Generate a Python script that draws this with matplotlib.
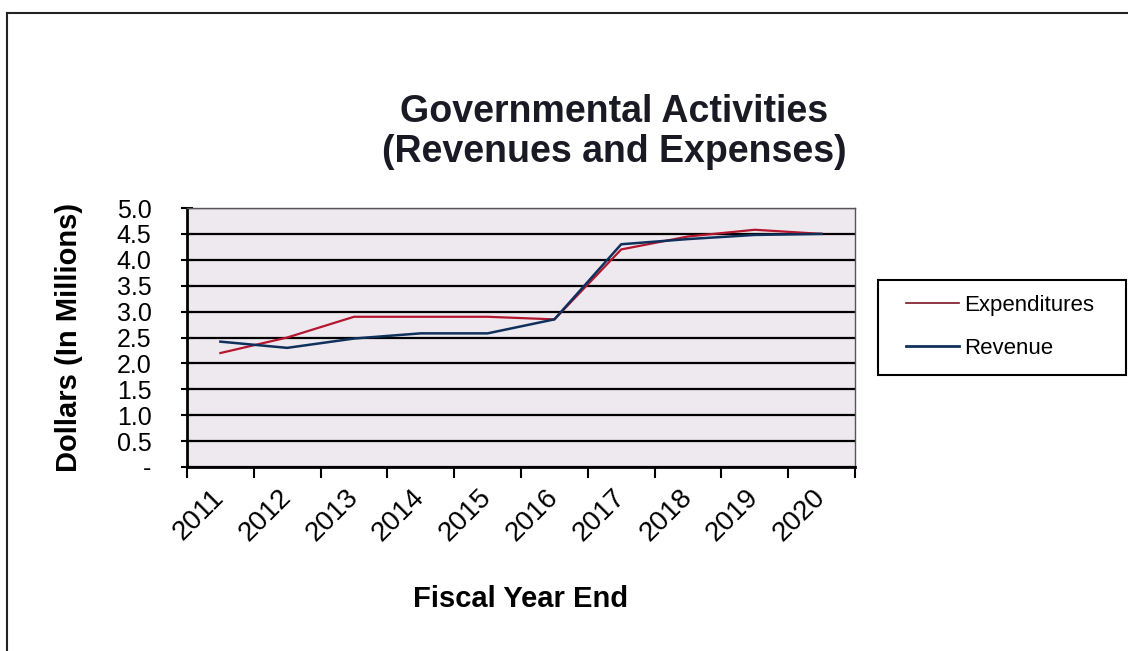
import matplotlib
matplotlib.use('Agg')
import matplotlib.pyplot as plt
from matplotlib.lines import Line2D
from matplotlib.patches import Rectangle
from matplotlib.ticker import MultipleLocator, FixedLocator, FuncFormatter

plt.rcParams['font.family'] = ['Liberation Sans', 'DejaVu Sans']

# Governmental activities, millions of dollars
years = ['2011', '2012', '2013', '2014', '2015', '2016', '2017', '2018', '2019', '2020']
expenditures = [2.2, 2.5, 2.9, 2.9, 2.9, 2.85, 4.2, 4.45, 4.58, 4.5]
revenue = [2.42, 2.3, 2.48, 2.58, 2.58, 2.85, 4.3, 4.4, 4.48, 4.5]

exp_color = '#b3162e'
rev_color = '#10305c'

fig = plt.figure(figsize=(11.28, 6.51), dpi=100)
ax = fig.add_axes([187 / 1128, 1 - 467 / 651, (855 - 187) / 1128, (467 - 208) / 651])
ax.set_facecolor('#eee8ef')

x = list(range(len(years)))
ax.plot(x, expenditures, color=exp_color, lw=1.6, label='Expenditures', zorder=3)
ax.plot(x, revenue, color=rev_color, lw=1.8, label='Revenue', zorder=3)

ax.set_xlim(-0.5, len(years) - 0.5)
ax.set_ylim(0, 5.0)

# horizontal gridlines every half million
ax.yaxis.set_major_locator(MultipleLocator(0.5))
ax.yaxis.set_major_formatter(FuncFormatter(lambda v, p: '-' if abs(v) < 1e-9 else f'{v:.1f}'))
ax.grid(axis='y', color='black', lw=1.6, zorder=1)
ax.set_axisbelow(True)

# category labels centred, tick marks on category boundaries
ax.set_xticks(x)
ax.set_xticklabels(years, rotation=45, ha='right', va='center', rotation_mode='anchor', fontsize=20)
ax.xaxis.set_minor_locator(FixedLocator([i - 0.5 for i in range(len(years) + 1)]))
ax.tick_params(axis='x', which='major', length=0, pad=19)
ax.tick_params(axis='x', which='minor', length=8, width=1.5, direction='out')
ax.tick_params(axis='y', length=9, width=1.5, direction='inout', labelsize=18, pad=21)

for side in ['left', 'bottom']:
    ax.spines[side].set_linewidth(2)
    ax.spines[side].set_color('black')
for side in ['right', 'top']:
    ax.spines[side].set_linewidth(1)
    ax.spines[side].set_color('#555555')

ax.set_ylabel('Dollars (In Millions)', fontsize=21, fontweight='bold', labelpad=24)
ax.set_xlabel('Fiscal Year End', fontsize=21, fontweight='bold', labelpad=28)

fig.text(614 / 1128, 1 - 94 / 651, 'Governmental Activities\n(Revenues and Expenses)',
         ha='center', va='top', fontsize=27, fontweight='bold', linespacing=1.15, color='#1a1a24')

# legend with a separate box around it
handles = [Line2D([], [], color='#7a1422', lw=1.2), Line2D([], [], color=rev_color, lw=2)]
fig.legend(handles, ['Expenditures', 'Revenue'], loc='center left',
           bbox_to_anchor=(895 / 1128, 1 - 327 / 651), frameon=False, fontsize=16,
           borderpad=0, handlelength=2.4, handletextpad=0.2, labelspacing=1.0)
fig.add_artist(Rectangle((878 / 1128, 1 - 375 / 651), (1126 - 878) / 1128, (375 - 280) / 651,
                         transform=fig.transFigure, fill=False, edgecolor='black', lw=1.5))

# outer page border
fig.add_artist(Line2D([7 / 1128, 7 / 1128], [0, 1 - 13 / 651], transform=fig.transFigure,
                      color='#222222', lw=1.5))
fig.add_artist(Line2D([7 / 1128, 1], [1 - 13 / 651, 1 - 13 / 651], transform=fig.transFigure,
                      color='#222222', lw=1.5))

fig.savefig('out.png', dpi=100)
